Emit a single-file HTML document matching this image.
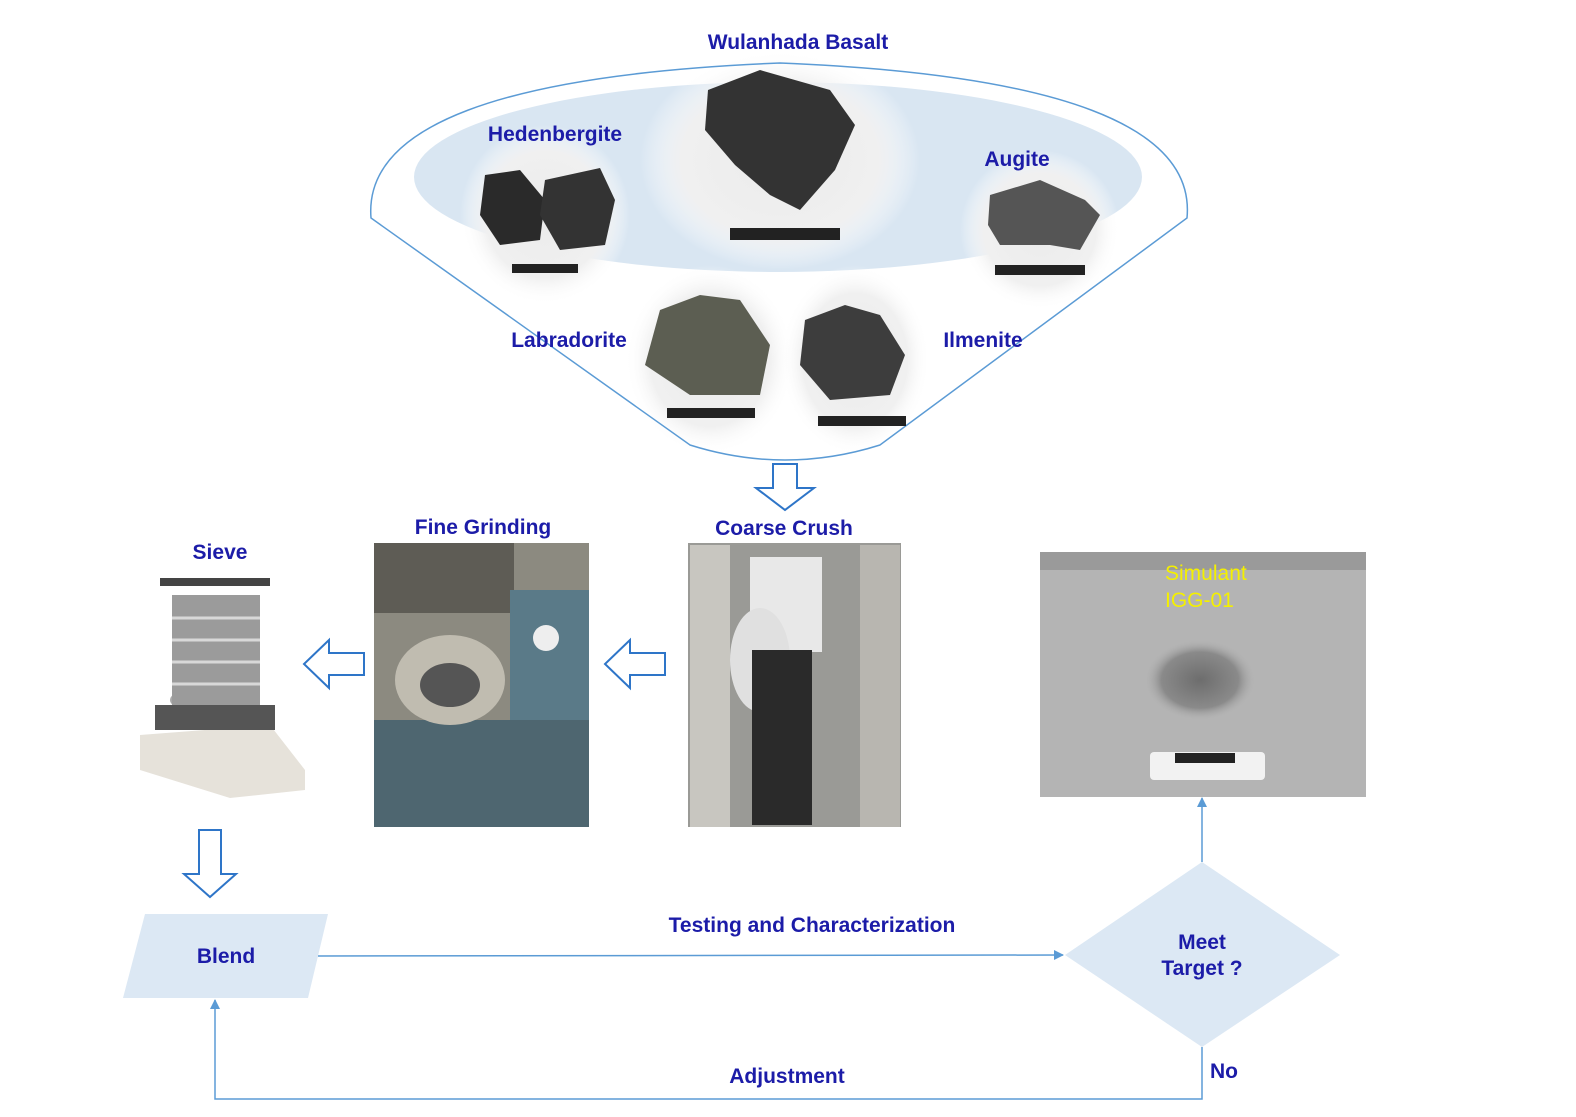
<!DOCTYPE html>
<html><head><meta charset="utf-8"><style>
html,body{margin:0;padding:0;background:#fff;}
body{width:1576px;height:1117px;position:relative;overflow:hidden;font-family:"Liberation Sans",Arial,sans-serif;}
.t{position:absolute;color:#1c1ca8;font-weight:bold;font-size:21px;white-space:nowrap;transform:translateX(-50%);}
</style></head><body>
<svg width="1576" height="1117" style="position:absolute;left:0;top:0">
<defs>
<radialGradient id="fade" cx="50%" cy="50%" r="50%">
<stop offset="0" stop-color="#ebebeb"/><stop offset="0.7" stop-color="#f0f0f0"/><stop offset="1" stop-color="#fff" stop-opacity="0"/></radialGradient>
<radialGradient id="pile" cx="50%" cy="50%" r="50%">
<stop offset="0" stop-color="#6d6d6d"/><stop offset="0.7" stop-color="#8a8a8a"/><stop offset="1" stop-color="#b0b0b0" stop-opacity="0"/></radialGradient>
<marker id="ah" markerWidth="10" markerHeight="10" refX="9" refY="5" orient="auto" markerUnits="userSpaceOnUse"><path d="M0,0 L10,5 L0,10 z" fill="#5b9bd5"/></marker>
</defs>
<!-- ellipse -->
<ellipse cx="778" cy="177" rx="364" ry="95" fill="#d9e6f2"/>
<!-- rock halos -->
<ellipse cx="545" cy="215" rx="85" ry="90" fill="url(#fade)"/>
<ellipse cx="780" cy="160" rx="140" ry="110" fill="url(#fade)"/>
<ellipse cx="1040" cy="230" rx="80" ry="80" fill="url(#fade)"/>
<ellipse cx="710" cy="360" rx="85" ry="95" fill="url(#fade)"/>
<ellipse cx="855" cy="360" rx="75" ry="95" fill="url(#fade)"/>
<!-- funnel -->
<path d="M371,218 Q360,80 780,63 Q1200,80 1187,218 L880,445 Q785,475 690,445 Z" fill="none" stroke="#5b9bd5" stroke-width="1.5"/>
<!-- rocks -->
<path d="M708,90 L760,70 L830,90 L855,125 L835,170 L800,210 L770,195 L735,165 L705,130 Z" fill="#333"/>
<path d="M485,175 L520,170 L545,200 L540,240 L500,245 L480,215 Z" fill="#2a2a2a"/>
<path d="M545,180 L600,168 L615,200 L605,245 L560,250 L540,215 Z" fill="#333"/>
<path d="M990,195 L1040,180 L1085,200 L1100,215 L1080,250 L1050,245 L1000,245 L988,225 Z" fill="#555"/>
<path d="M660,310 L700,295 L740,300 L770,345 L760,395 L690,395 L645,365 Z" fill="#5c5e52"/>
<path d="M805,320 L845,305 L880,315 L905,355 L890,395 L830,400 L800,365 Z" fill="#3d3d3d"/>
<g fill="#222"><rect x="730" y="228" width="110" height="12"/><rect x="512" y="264" width="66" height="9"/><rect x="995" y="265" width="90" height="10"/><rect x="667" y="408" width="88" height="10"/><rect x="818" y="416" width="88" height="10"/></g>
<!-- down arrow top -->
<path d="M773,464 L797,464 L797,488 L814,488 L785,510 L756,488 L773,488 Z" fill="#fff" stroke="#2e75c8" stroke-width="2"/>
<!-- photos -->
<rect x="688" y="543" width="213" height="284" fill="#9a9a96"/>
<rect x="690" y="545" width="40" height="282" fill="#c8c6c0"/>
<rect x="860" y="545" width="40" height="282" fill="#b8b6b0"/>
<rect x="750" y="557" width="72" height="95" fill="#e8e8e8"/>
<ellipse cx="760" cy="660" rx="30" ry="52" fill="#e0e0e0"/>
<rect x="752" y="650" width="60" height="175" fill="#2a2a2a"/>
<rect x="374" y="543" width="215" height="284" fill="#8c8a80"/>
<rect x="374" y="543" width="140" height="70" fill="#5e5c55"/>
<rect x="510" y="590" width="79" height="200" fill="#5a7a88"/>
<rect x="374" y="720" width="215" height="107" fill="#4e6670"/>
<ellipse cx="450" cy="680" rx="55" ry="45" fill="#c0bcb0"/>
<ellipse cx="450" cy="685" rx="30" ry="22" fill="#555"/>
<circle cx="546" cy="638" r="13" fill="#eee"/>
<rect x="1040" y="552" width="326" height="245" fill="#b4b4b4"/>
<rect x="1040" y="552" width="326" height="18" fill="#9a9a9a"/>
<ellipse cx="1200" cy="680" rx="55" ry="40" fill="url(#pile)"/>
<rect x="1150" y="752" width="115" height="28" rx="4" fill="#f2f2f2"/>
<rect x="1175" y="753" width="60" height="10" fill="#222"/>
<!-- sieve -->
<ellipse cx="215" cy="700" rx="45" ry="15" fill="#aaa"/>
<rect x="172" y="595" width="88" height="110" fill="#9b9b9b"/>
<g stroke="#d8d8d8" stroke-width="3"><line x1="172" y1="618" x2="260" y2="618"/><line x1="172" y1="640" x2="260" y2="640"/><line x1="172" y1="662" x2="260" y2="662"/><line x1="172" y1="684" x2="260" y2="684"/></g>
<rect x="160" y="578" width="110" height="8" fill="#444"/>
<path d="M140,735 L270,725 L305,770 L305,790 L230,798 L140,770 Z" fill="#e6e2da"/>
<rect x="155" y="705" width="120" height="25" fill="#555"/>
<!-- left arrows -->
<path d="M665,653 L630,653 L630,640 L605,664 L630,688 L630,675 L665,675 Z" fill="#fff" stroke="#2e75c8" stroke-width="2"/>
<path d="M364,653 L329,653 L329,640 L304,664 L329,688 L329,675 L364,675 Z" fill="#fff" stroke="#2e75c8" stroke-width="2"/>
<!-- down arrow sieve -->
<path d="M199,830 L221,830 L221,874 L236,874 L210,897 L184,874 L199,874 Z" fill="#fff" stroke="#2e75c8" stroke-width="2"/>
<!-- blend -->
<path d="M145,914 L328,914 L308,998 L123,998 Z" fill="#dce8f4"/>
<line x1="318" y1="956" x2="1063" y2="955" stroke="#5b9bd5" stroke-width="1.5" marker-end="url(#ah)"/>
<!-- diamond -->
<path d="M1202,862 L1340,955 L1202,1047 L1065,955 Z" fill="#dce8f4"/>
<line x1="1202" y1="862" x2="1202" y2="798" stroke="#5b9bd5" stroke-width="1.5" marker-end="url(#ah)"/>
<polyline points="1202,1047 1202,1099 215,1099 215,1000" fill="none" stroke="#5b9bd5" stroke-width="1.5" marker-end="url(#ah)"/>
</svg>
<div class="t" style="left:798px;top:31px">Wulanhada Basalt</div>
<div class="t" style="left:555px;top:123px">Hedenbergite</div>
<div class="t" style="left:1017px;top:148px">Augite</div>
<div class="t" style="left:569px;top:329px">Labradorite</div>
<div class="t" style="left:983px;top:329px">Ilmenite</div>
<div class="t" style="left:784px;top:517px">Coarse Crush</div>
<div class="t" style="left:483px;top:516px">Fine Grinding</div>
<div class="t" style="left:220px;top:541px">Sieve</div>
<div class="t" style="left:226px;top:945px">Blend</div>
<div class="t" style="left:812px;top:914px">Testing and Characterization</div>
<div class="t" style="left:1202px;top:930px;text-align:center;line-height:26px">Meet<br>Target ?</div>
<div class="t" style="left:787px;top:1065px">Adjustment</div>
<div class="t" style="left:1224px;top:1060px">No</div>
<div style="position:absolute;left:1165px;top:560px;color:#f4f000;font-size:21px;line-height:27px">Simulant<br>IGG-01</div>
</body></html>
